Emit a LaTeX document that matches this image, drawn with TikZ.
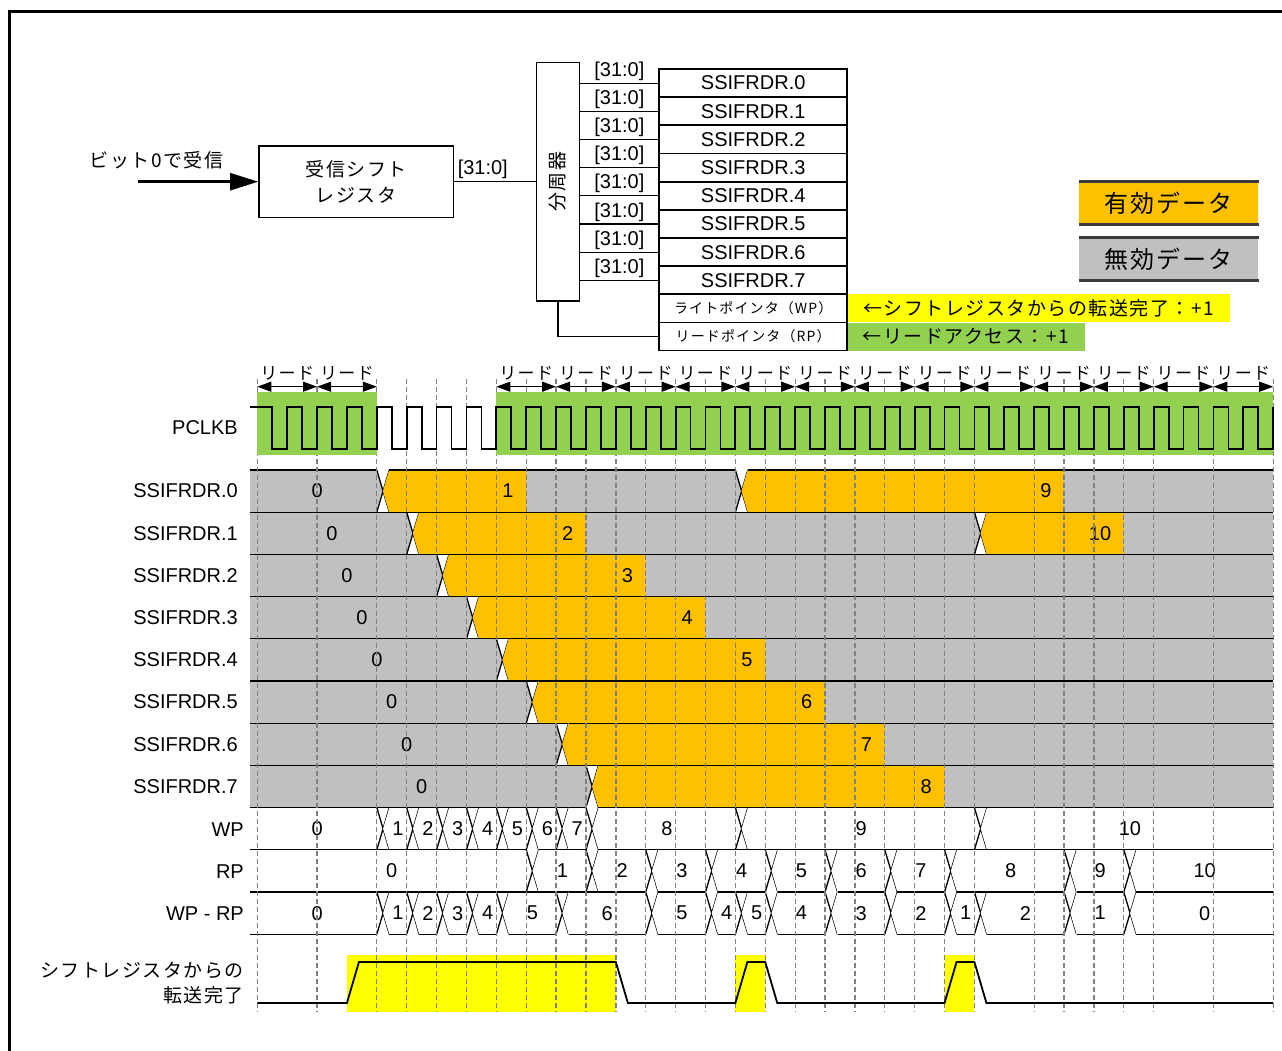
\documentclass[tikz,border=0pt]{standalone}
\usepackage{fontspec}
\setmainfont{Liberation Sans}
\newfontfamily\jp{Noto Sans CJK JP}[LetterSpace=8]
\usetikzlibrary{arrows.meta,positioning,calc}
\definecolor{validorange}{RGB}{255,192,0}
\definecolor{invalidgrey}{RGB}{192,192,192}
\definecolor{readgreen}{RGB}{146,208,80}
\definecolor{doneyellow}{RGB}{255,255,0}
\definecolor{gridgrey}{RGB}{128,128,128}
\definecolor{rulegrey}{RGB}{60,60,60}
% x position of clock edge k
\newcommand{\kx}[1]{257.3+29.88*(#1)}
% one bus row: row index, fill, list of from/to/valid-end/value
\newcommand{\busrow}[3]{%
  \pgfmathsetmacro{\yt}{470+42.2*#1}%
  \pgfmathsetmacro{\ym}{\yt+21.1}%
  \pgfmathsetmacro{\yb}{\yt+42.2}%
  \foreach \ka/\kb/\ke/\lab in {#3}{%
    \pgfmathsetmacro{\xa}{\ka<0 ? 250 : \kx{\ka}+12.5}%
    \pgfmathsetmacro{\xc}{\ka<0 ? 250 : \kx{\ka}+6.25}%
    \pgfmathsetmacro{\xl}{\ka<0 ? 257.3 : \xa}%
    \pgfmathsetmacro{\xb}{\kb>90 ? 1273 : \kx{\kb}}%
    \pgfmathsetmacro{\xd}{\kb>90 ? 1273 : \xb+6.25}%
    \fill[#2] (\xc,\ym) -- (\xa,\yt) -- (\xb,\yt) -- (\xd,\ym) -- (\xb,\yb) -- (\xa,\yb) -- cycle;
    \ifnum\ke<0
      \node[val] (d#1-\ka) at ({(\xl+\xb)/2},\ym) {\lab};
    \else
      \pgfmathsetmacro{\xe}{\kx{\ke}}%
      \fill[validorange] (\xc,\ym) -- (\xa,\yt) -- (\xe,\yt) -- (\xe,\yb) -- (\xa,\yb) -- cycle;
      \node[val, anchor=east] (d#1-\ka) at (\xe-12.5,\ym) {\lab};
    \fi
    \draw[busline] (\xa,\yt) -- (\xb,\yt) (\xa,\yb) -- (\xb,\yb);
    \ifnum\kb<90 \draw[busline] (\xb,\yt) -- (\xb+12.5,\yb) (\xb,\yb) -- (\xb+12.5,\yt); \fi
  }%
}
\tikzset{
  box/.style={draw, line width=1.5pt, fill=white, inner sep=0pt},
  regbox/.style={draw, line width=1.8pt, minimum width=187.7pt, minimum height=28.17pt, inner sep=0pt, font=\fontsize{20}{24}\selectfont},
  lbl/.style={font=\fontsize{20}{24}\selectfont, inner sep=0pt},
  jplbl/.style={font=\jp\fontsize{19}{24}\selectfont, inner sep=0pt},
  val/.style={font=\fontsize{20}{24}\selectfont, inner sep=0pt},
  sig/.style={font=\fontsize{20}{24}\selectfont, anchor=east, inner sep=0pt},
  note/.style={font=\jp\fontsize{19}{24}\selectfont, minimum height=28pt, inner sep=0pt, anchor=west},
  legend/.style={font=\jp\fontsize{24}{28}\selectfont, minimum width=179.5pt, minimum height=42.3pt, inner sep=0pt},
  legendrule/.style={rulegrey, line width=3pt},
  wire/.style={line width=1.2pt},
  busline/.style={line width=1.3pt},
  gridline/.style={gridgrey, line width=1.3pt, dash pattern=on 5pt off 3pt},
  clk/.style={line width=1.8pt},
  readarrow/.style={{Triangle[length=14pt,width=10pt]}-{Triangle[length=14pt,width=10pt]}, line width=1.2pt},
  inarrow/.style={-{Triangle[length=28pt,width=17pt]}, line width=2.5pt}
}
\begin{document}
\begin{tikzpicture}[x=1pt, y=-1pt]
  \useasboundingbox (0,0) rectangle (1282,1050);
  \draw[line width=3pt] (9,1052) -- (9,11) -- (1284,11);

  % block diagram
  \node[box, minimum width=194.6pt, minimum height=71.3pt, align=center,
        font=\jp\fontsize{19}{26.6}\selectfont] (shiftreg) at (356.2,181.7) {受信シフト\\レジスタ};
  \coordinate (rxin) at (137.5,181.7);
  \draw[inarrow] (rxin) -- (shiftreg.west);
  \node[jplbl] (rxlbl) at (156.5,160) {ビット0で受信};
  \node[box, minimum width=43pt, minimum height=238.7pt] (div) at (558,181.7) {};
  \node[jplbl, rotate=90] (divtxt) at (div) {分周器};
  \draw[wire] (shiftreg.east) -- (div.west) node[pos=0.35, yshift=12pt, lbl] (busin) {[31:0]};

  \node[note, fill=doneyellow, minimum width=382.7pt] (wpnote) at (847,308.4) {←シフトレジスタからの転送完了：+1};
  \node[note, fill=readgreen, minimum width=237.4pt] (rpnote) at (847,336.5) {←リードアクセス：+1};
  \foreach \i in {0,...,7}
    \node[regbox] (reg\i) at (753.2,{83.1+28.17*\i}) {SSIFRDR.\i};
  \node[regbox, font=\jp\fontsize{14}{16}\selectfont] (reg8) at (753.2,308.4) {ライトポインタ（WP）};
  \node[regbox, font=\jp\fontsize{14}{16}\selectfont] (reg9) at (753.2,336.5) {リードポインタ（RP）};
  \foreach \i in {0,...,7}
    \draw[wire] (div.east |- reg\i.west) -- (reg\i.west) node[midway, yshift=12pt, lbl] (bus\i) {[31:0]};
  \draw[wire] (div.south) |- (reg9.west);

  \node[legend, fill=validorange] (legvalid) at (1168.7,202.9) {有効データ};
  \node[legend, fill=invalidgrey] (leginvalid) at (1168.7,258.9) {無効データ};
  \draw[legendrule] (legvalid.north west) -- (legvalid.north east) (legvalid.south west) -- (legvalid.south east);
  \draw[legendrule] (leginvalid.north west) -- (leginvalid.north east) (leginvalid.south west) -- (leginvalid.south east);

  % SSIFRDR rows
  \busrow{0}{invalidgrey}{-1/4/-1/0, 4/16/9/1, 16/99/27/9}
  \busrow{1}{invalidgrey}{-1/5/-1/0, 5/24/11/2, 24/99/29/10}
  \foreach \n in {2,...,7}{
    \pgfmathtruncatemacro{\kn}{4+\n}
    \pgfmathtruncatemacro{\ken}{9+2*\n}
    \pgfmathtruncatemacro{\vn}{\n+1}
    \busrow{\n}{invalidgrey}{-1/\kn/-1/0, \kn/99/\ken/\vn}
  }
  % pointers
  \busrow{8}{white}{-1/4/-1/0, 4/5/-1/1, 5/6/-1/2, 6/7/-1/3, 7/8/-1/4, 8/9/-1/5, 9/10/-1/6,
    10/11/-1/7, 11/16/-1/8, 16/24/-1/9, 24/99/-1/10}
  \busrow{9}{white}{-1/9/-1/0, 9/11/-1/1, 11/13/-1/2, 13/15/-1/3, 15/17/-1/4, 17/19/-1/5,
    19/21/-1/6, 21/23/-1/7, 23/27/-1/8, 27/29/-1/9, 29/99/-1/10}
  \busrow{10}{white}{-1/4/-1/0, 4/5/-1/1, 5/6/-1/2, 6/7/-1/3, 7/8/-1/4, 8/10/-1/5, 10/13/-1/6,
    13/15/-1/5, 15/16/-1/4, 16/17/-1/5, 17/19/-1/4, 19/21/-1/3, 21/23/-1/2, 23/24/-1/1,
    24/27/-1/2, 27/29/-1/1, 29/99/-1/0}

  % transfer complete
  \foreach \ku/\kd in {3/12,16/17,23/24}
    \fill[doneyellow] ({\kx{\ku}},955) rectangle ({\kx{\kd}},1011.7);

  % clock grid
  \foreach \k in {0,2,4,5,...,24,26,27,28,29,30,32,34}
    \draw[gridline] ({\kx{\k}},379) -- ({\kx{\k}},1012);

  % PCLKB
  \fill[readgreen] ({\kx{0}},391.7) rectangle ({\kx{4}},455);
  \fill[readgreen] ({\kx{8}},391.7) rectangle ({\kx{34}},455);
  \draw[clk] (250,406.7) \foreach \k in {0,...,33}{
    -- ({\kx{\k+0.5}},406.7) -- ({\kx{\k+0.5}},449.3) -- ({\kx{\k+1}},449.3) -- ({\kx{\k+1}},406.7)};

  \foreach \k in {0,...,34}
    \coordinate (t\k) at ({\kx{\k}},386.7);
  \foreach \k [evaluate=\k as \kn using int(\k+2)] in {0,2,8,10,...,32}
    \draw[readarrow] (t\k) -- (t\kn) node[midway, above=6pt, font=\jp\fontsize{17}{20}\selectfont, inner sep=0pt] (rd\k) {リード};

  \draw[clk] ({\kx{0}},1003) \foreach \ku/\kd in {3/12,16/17,23/24}{
    -- ({\kx{\ku}},1003) -- ({\kx{\ku}+12},962) -- ({\kx{\kd}},962) -- ({\kx{\kd}+12},1003)}
    -- ({\kx{34}},1003);

  % signal names
  \node[sig] (lpclk) at (238,428) {PCLKB};
  \foreach \n in {0,...,7}
    \node[sig] (lreg\n) at (238,{491.1+42.2*\n}) {SSIFRDR.\n};
  \node[sig] (lwp) at (244,829.7) {WP};
  \node[sig] (lrp) at (244,871.9) {RP};
  \node[sig] (ldiff) at (244,914.1) {WP - RP};
  \node[sig, align=right, font=\jp\fontsize{19}{25}\selectfont] (ldone) at (244,983) {シフトレジスタからの\\転送完了};
\end{tikzpicture}
\end{document}
